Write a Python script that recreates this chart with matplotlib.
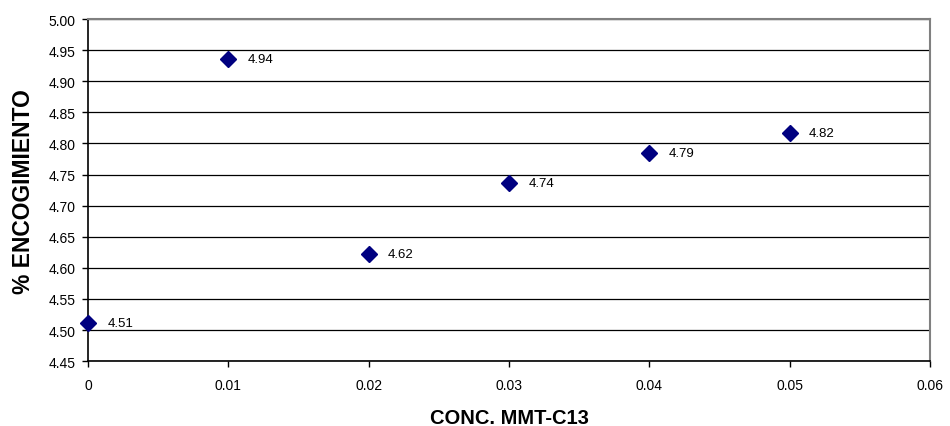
import matplotlib
matplotlib.use('Agg')
import matplotlib.pyplot as plt

# data
conc = [0.0, 0.01, 0.02, 0.03, 0.04, 0.05]
shrink = [4.511, 4.936, 4.623, 4.736, 4.785, 4.817]
labels = ['4.51', '4.94', '4.62', '4.74', '4.79', '4.82']
xticks = [0, 0.01, 0.02, 0.03, 0.04, 0.05, 0.06]
xtickLabels = ['0', '0.01', '0.02', '0.03', '0.04', '0.05', '0.06']
yticks = [4.45, 4.50, 4.55, 4.60, 4.65, 4.70, 4.75, 4.80, 4.85, 4.90, 4.95, 5.00]

plt.rcParams['font.family'] = ['Liberation Sans', 'DejaVu Sans']

fig = plt.figure(figsize=(9.5, 4.27), dpi=100)
ax = fig.add_axes([0.0926, 0.152, 0.8864, 0.801])

ax.plot(conc, shrink, 'D', color='#000080', markersize=8.5, linestyle='none',
        clip_on=False, zorder=5)
for x, y, s in zip(conc, shrink, labels):
    ax.annotate(s, (x, y), xytext=(14, 0), textcoords='offset points',
                va='center', ha='left', fontsize=9.5)

ax.set_xlim(0, 0.06)
ax.set_ylim(4.45, 5.00)
ax.set_xticks(xticks)
ax.set_xticklabels(xtickLabels)
ax.set_yticks(yticks)
ax.set_yticklabels(['{:.2f}'.format(v) for v in yticks])
ax.tick_params(axis='both', labelsize=10, direction='out', length=4, width=1,
               color='black')
ax.tick_params(axis='x', pad=8)
ax.tick_params(axis='y', pad=5)
ax.yaxis.grid(True, color='black', linewidth=0.9)
ax.set_axisbelow(True)

for side in ['top', 'right']:
    ax.spines[side].set_color('#808080')
    ax.spines[side].set_linewidth(1.5)
for side in ['left', 'bottom']:
    ax.spines[side].set_color('black')
    ax.spines[side].set_linewidth(1.2)

ax.set_xlabel('CONC. MMT-C13', fontsize=14.5, fontweight='bold', labelpad=12)
ax.set_ylabel('% ENCOGIMIENTO', fontsize=16.5, fontweight='bold', labelpad=10)

plt.savefig('out.png', dpi=100)
